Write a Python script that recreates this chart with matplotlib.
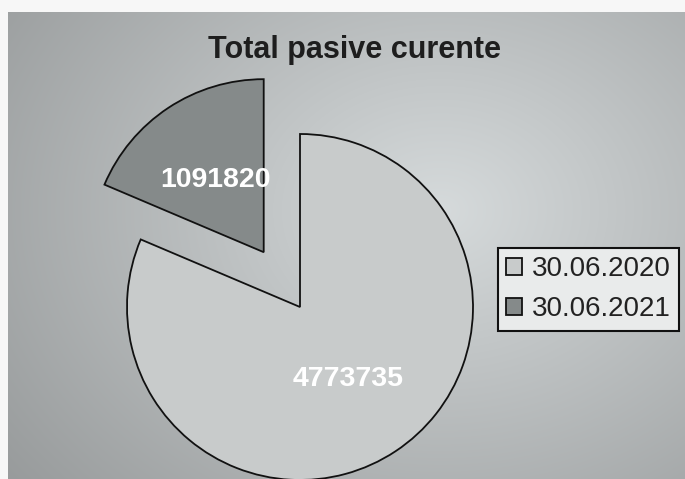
import numpy as np
import matplotlib
matplotlib.use("Agg")
import matplotlib.pyplot as plt

title = "Total pasive curente"
categories = ["30.06.2020", "30.06.2021"]
values = [4773735, 1091820]
colors = ["#c8cbcb", "#858a8a"]
explode = [0, 0.38]

W, H = 685, 479
fig = plt.figure(figsize=(W / 100, H / 100), dpi=100)

# background radial gradient with a white scan margin on top/left
bg = fig.add_axes([0, 0, 1, 1])
yy, xx = np.mgrid[0:H, 0:W]
cx, cy = 440, 210
d = np.sqrt(((xx - cx) / 420.0) ** 2 + ((yy - cy) / 330.0) ** 2)
g = np.clip(0.86 - 0.19 * d, 0.58, 0.87)
img = np.dstack([g * 0.975, g * 0.995, g * 1.0])
img[:12, :, :] = 0.97
img[:, :8, :] = 0.97
bg.imshow(np.clip(img, 0, 1), aspect="auto", extent=[0, W, H, 0])
bg.set_axis_off()

# pie axes: center at pixel (300, 307), radius 173 px
R, PX, PY = 173.0, 300.0, 307.0
ax = fig.add_axes([0, 0, 1, 1])
ax.patch.set_alpha(0)
wedges, texts = ax.pie(values, colors=colors, explode=explode, startangle=90,
                       counterclock=False, radius=1.0,
                       labels=[f"{v}" for v in values], labeldistance=0.5,
                       wedgeprops=dict(edgecolor="#111111", linewidth=1.3),
                       textprops=dict(color="white", fontsize=20.5, fontweight="bold",
                                      family="Liberation Sans", ha="center", va="center"))
ax.set_aspect("auto")
ax.set_xlim(-PX / R, (W - PX) / R)
ax.set_ylim((PY - H) / R, PY / R)
ax.set_axis_off()

fig.text(355 / W, 1 - 50 / H, title, ha="center", va="center", fontsize=22,
         fontweight="bold", family="Liberation Sans", color="#1e1e1e")

leg = fig.legend(wedges, categories, loc="upper left",
                 bbox_to_anchor=(498 / W, 1 - 248 / H), borderaxespad=0,
                 prop=dict(family="Liberation Sans", size=20),
                 handlelength=0.55, handleheight=0.55, handletextpad=0.36,
                 labelspacing=0.5, borderpad=0.3, frameon=True, fancybox=False,
                 facecolor="#e9ebeb", edgecolor="#111111", framealpha=1)
leg.get_frame().set_linewidth(1.5)
for t in leg.get_texts():
    t.set_color("#222222")

fig.savefig("out.png", dpi=100)
